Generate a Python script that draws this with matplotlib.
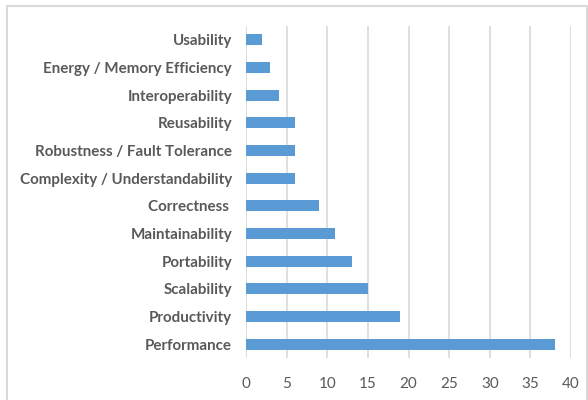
import matplotlib.pyplot as plt
from matplotlib.patches import Rectangle

categories = ['Usability', 'Energy / Memory Efficiency', 'Interoperability',
              'Reusability', 'Robustness / Fault Tolerance',
              'Complexity / Understandability', 'Correctness ', 'Maintainability',
              'Portability', 'Scalability', 'Productivity', 'Performance']
values = [2, 3, 4, 6, 6, 6, 9, 11, 13, 15, 19, 38]
xticks = [0, 5, 10, 15, 20, 25, 30, 35, 40]

plt.rcParams['font.family'] = ['Lato', 'DejaVu Sans']

fig = plt.figure(figsize=(5.88, 4), dpi=100)
ax = fig.add_axes([246 / 588, 1 - 358 / 400, (571 - 246) / 588, (358 - 26) / 400])

ypos = list(range(len(categories)))
ax.barh(ypos, values, height=0.4, color='#5B9BD5', zorder=3)
ax.set_ylim(len(categories) - 0.5, -0.5)
ax.set_xlim(0, 40)
ax.set_xticks(xticks)
ax.set_yticks(ypos)
ax.set_yticklabels(categories, fontsize=10.9, fontweight='bold', color='#595959')
ax.tick_params(axis='x', labelsize=11, labelcolor='#595959', length=0, pad=14)
ax.tick_params(axis='y', length=0, pad=10)
ax.grid(axis='x', color='#d9d9d9', linewidth=1.2, zorder=0)
for s in ax.spines.values():
    s.set_visible(False)

# chart border
fig.patches.append(Rectangle((7 / 588, -0.05), 580 / 588, 1.05 - 6 / 400,
                             transform=fig.transFigure, fill=False,
                             edgecolor='#d9d9d9', linewidth=1.5))

fig.savefig('out.png', dpi=100)
